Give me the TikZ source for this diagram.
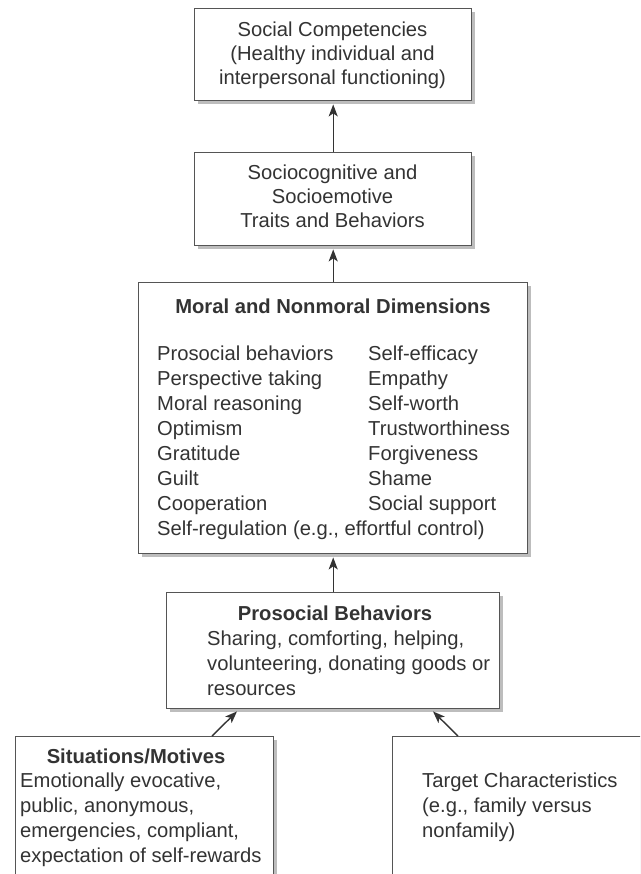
\documentclass[tikz,border=0pt]{standalone}
\usepackage{fontspec}
\setmainfont{Liberation Sans}
\usetikzlibrary{shadows,arrows.meta,calc}

\definecolor{linegray}{HTML}{555555}
\definecolor{arrgray}{HTML}{333333}
\definecolor{txtgray}{HTML}{333333}
\definecolor{shadowgray}{HTML}{BDBDBD}

\tikzset{
  box/.style={draw=linegray, line width=1.4pt, fill=white, anchor=north west,
    drop shadow={shadow xshift=3pt, shadow yshift=-3pt, fill=shadowgray, opacity=1}},
  txt/.style={inner sep=0pt, text=txtgray, font=\fontsize{20.2}{24}\selectfont},
  hd/.style={txt, font=\fontsize{20.2}{24}\selectfont\bfseries},
  arr/.style={draw=arrgray, line width=1.4pt, -{Stealth[length=12pt,width=9pt,inset=3pt]}}
}

\begin{document}
\begin{tikzpicture}[x=1pt, y=-1pt]
\useasboundingbox (0,0) rectangle (640,874);
\fill[white] (0,0) rectangle (640,874);
\begin{scope}
\clip (0,0) rectangle (640,874);

% boxes
\node[box, minimum width=277pt, minimum height=92pt]  (b1) at (194,8)   {};
\node[box, minimum width=277pt, minimum height=93pt]  (b2) at (194,152) {};
\node[box, minimum width=389pt, minimum height=271pt] (b3) at (138,282) {};
\node[box, minimum width=333pt, minimum height=116pt] (b4) at (166,592) {};
\node[box, minimum width=258pt, minimum height=170pt] (b5) at (15,736)  {};
\node[box, minimum width=600pt, minimum height=170pt] (b6) at (392,736) {};

% top box
\node[txt, anchor=base] (t11) at (332.5,37) {Social Competencies};
\node[txt, anchor=base] (t12) at (332.5,61) {(Healthy individual and};
\node[txt, anchor=base] (t13) at (332.5,85) {interpersonal functioning)};

% second box
\node[txt, anchor=base] (t21) at (332.5,180) {Sociocognitive and};
\node[txt, anchor=base] (t22) at (332.5,204) {Socioemotive};
\node[txt, anchor=base] (t23) at (332.5,228) {Traits and Behaviors};

% dimensions box
\node[hd, anchor=base] (t30) at (333,313) {Moral and Nonmoral Dimensions};
\foreach \l/\r [count=\i from 0] in {
  Prosocial behaviors/Self-efficacy,
  Perspective taking/Empathy,
  Moral reasoning/Self-worth,
  Optimism/Trustworthiness,
  Gratitude/Forgiveness,
  Guilt/Shame,
  Cooperation/Social support}{
  \node[txt, anchor=base west] (dl\i) at (157,360+25*\i) {\l};
  \node[txt, anchor=base west] (dr\i) at (368,360+25*\i) {\r};
}
\node[txt, anchor=base west] (t38) at (157,535) {Self-regulation (e.g., effortful control)};

% prosocial behaviors box
\node[hd, anchor=base] (t40) at (335,620) {Prosocial Behaviors};
\node[txt, anchor=base west] (t41) at (207,645) {Sharing, comforting, helping,};
\node[txt, anchor=base west] (t42) at (207,670) {volunteering, donating goods or};
\node[txt, anchor=base west] (t43) at (207,695) {resources};

% situations box
\node[hd, anchor=base] (t50) at (136,763) {Situations/Motives};
\node[txt, anchor=base west] (t51) at (20,787) {Emotionally evocative,};
\node[txt, anchor=base west] (t52) at (20,812) {public, anonymous,};
\node[txt, anchor=base west] (t53) at (20,837) {emergencies, compliant,};
\node[txt, anchor=base west] (t54) at (20,862) {expectation of self-rewards};

% target box
\node[txt, anchor=base west] (t61) at (422,787) {Target Characteristics};
\node[txt, anchor=base west] (t62) at (422,812) {(e.g., family versus};
\node[txt, anchor=base west] (t63) at (422,837) {nonfamily)};

% connectors
\draw[arr] (b2.north) -- ($(b1.south)+(0,3)$);
\draw[arr] (b3.north) -- ($(b2.south)+(0,3)$);
\draw[arr] (b4.north) -- ($(b3.south)+(0,3)$);
\coordinate (s5) at ($(b5.north west)+(197,0)$);
\coordinate (e5) at ($(b4.south west)+(71,2)$);
\coordinate (s6) at ($(b6.north west)+(66,0)$);
\coordinate (e6) at ($(b4.south west)+(267,2)$);
\draw[arr] (s5) -- (e5);
\draw[arr] (s6) -- (e6);
\end{scope}
\end{tikzpicture}
\end{document}
